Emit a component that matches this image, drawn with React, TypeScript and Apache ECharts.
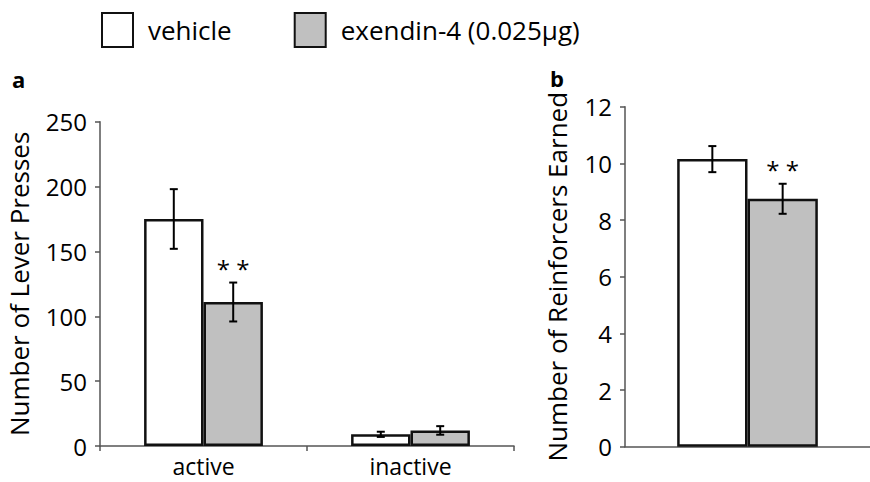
import React, { useEffect, useRef } from "react";
import * as echarts from "echarts";

// Panel a: lever presses
const categoriesA = ["active", "inactive"];
const vehicleA = [175, 9];
const vehicleAErr = [23, 2];
const exendinA = [111, 12];
const exendinAErr = [15, 3.3];
const sigA = ["* *", ""];

// Panel b: reinforcers earned
const categoriesB = [""];
const vehicleB = [10.15];
const vehicleBErr = [0.46];
const exendinB = [8.75];
const exendinBErr = [0.53];
const sigB = ["* *"];

const ticksA = { min: 0, max: 250, interval: 50 };
const ticksB = { min: 0, max: 12, interval: 2 };

const seriesNames = ["vehicle", "exendin-4 (0.025µg)"];

const FONT = "'Open Sans', 'DejaVu Sans', sans-serif";
const BAR_FRAC = 0.287;
const GRAY = "#c0c0c0";
const EDGE = "#111";
const AXIS = "#555";
const INK = "#000";

function errSeries(gi: number, values: number[], errs: number[], sigs: string[] | null, side: number) {
  return {
    type: "custom",
    xAxisIndex: gi,
    yAxisIndex: gi,
    z: 10,
    silent: true,
    encode: { x: 0, y: 1 },
    data: values.map((v, i) => [i, v, errs[i]]),
    renderItem: (params: any, api: any) => {
      const i = api.value(0);
      const v = api.value(1);
      const e = api.value(2);
      const band = api.size([1, 0])[0];
      const bw = band * BAR_FRAC;
      const c = api.coord([i, v]);
      const x = c[0] + (side * bw) / 2;
      const top = api.coord([i, v + e])[1];
      const bot = api.coord([i, v - e])[1];
      const cap = 4;
      const st = { stroke: "#000", lineWidth: 2 };
      const children: any[] = [
        { type: "line", shape: { x1: x, y1: top, x2: x, y2: bot }, style: st },
        { type: "line", shape: { x1: x - cap, y1: top, x2: x + cap, y2: top }, style: st },
        { type: "line", shape: { x1: x - cap, y1: bot, x2: x + cap, y2: bot }, style: st },
      ];
      const s = sigs ? sigs[params.dataIndex] : "";
      if (s) {
        children.push({
          type: "text",
          style: {
            text: s,
            x: x,
            y: top - 2,
            align: "center",
            verticalAlign: "bottom",
            fontFamily: FONT,
            fontSize: 24,
            fill: INK,
          },
        });
      }
      return { type: "group", children };
    },
  };
}

function barSeries(gi: number, name: string, data: number[], color: string) {
  return {
    type: "bar",
    name,
    xAxisIndex: gi,
    yAxisIndex: gi,
    data,
    barWidth: BAR_FRAC * 100 + "%",
    barGap: "0%",
    itemStyle: { color, borderColor: EDGE, borderWidth: 2.5 },
  };
}

export default function App() {
  const ref = useRef<HTMLDivElement>(null);
  useEffect(() => {
    if (!ref.current) return;
    const chart = echarts.init(ref.current, null, { renderer: "svg" });
    const yLabel = { color: INK, fontFamily: FONT, fontSize: 24 };
    chart.setOption({
      animation: false,
      backgroundColor: "#fff",
      textStyle: { fontFamily: FONT },
      legend: {
        data: seriesNames,
        left: 101,
        top: 12,
        padding: 0,
        icon: "rect",
        itemWidth: 31,
        itemHeight: 34,
        itemGap: 62,
        textStyle: { fontFamily: FONT, fontSize: 26, color: INK, padding: [0, 0, 0, 10] },
        selectedMode: false,
      },
      graphic: [
        { type: "text", left: 12, top: 68, style: { text: "a", fontFamily: FONT, fontSize: 22, fontWeight: "bold", fill: INK } },
        { type: "text", left: 550, top: 67, style: { text: "b", fontFamily: FONT, fontSize: 22, fontWeight: "bold", fill: INK } },
      ],
      grid: [
        { left: 100, top: 121.7, width: 414, height: 324.3 },
        { left: 625, top: 106.7, width: 250, height: 340 },
      ],
      xAxis: [
        {
          type: "category",
          gridIndex: 0,
          data: categoriesA,
          axisLine: { lineStyle: { color: AXIS, width: 1.5 } },
          axisTick: { show: true, length: 5, lineStyle: { color: AXIS, width: 1.5 } },
          axisLabel: { color: INK, fontFamily: FONT, fontSize: 23, margin: 8 },
        },
        {
          type: "category",
          gridIndex: 1,
          data: categoriesB,
          axisLine: { lineStyle: { color: AXIS, width: 1.5 } },
          axisTick: { show: false },
          axisLabel: { show: false },
        },
      ],
      yAxis: [
        {
          type: "value",
          gridIndex: 0,
          ...ticksA,
          name: "Number of Lever Presses",
          nameLocation: "middle",
          nameRotate: 90,
          nameGap: 68,
          nameTextStyle: { color: INK, fontFamily: FONT, fontSize: 26 },
          splitLine: { show: false },
          axisLine: { show: true, lineStyle: { color: AXIS, width: 1.5 } },
          axisTick: { show: true, length: 5, lineStyle: { color: AXIS, width: 1.5 } },
          axisLabel: { ...yLabel, margin: 13 },
        },
        {
          type: "value",
          gridIndex: 1,
          ...ticksB,
          name: "Number of Reinforcers Earned",
          nameLocation: "middle",
          nameRotate: 90,
          nameGap: 55,
          nameTextStyle: { color: INK, fontFamily: FONT, fontSize: 26 },
          splitLine: { show: false },
          axisLine: { show: true, lineStyle: { color: AXIS, width: 1.5 } },
          axisTick: { show: true, length: 5, lineStyle: { color: AXIS, width: 1.5 } },
          axisLabel: { ...yLabel, margin: 13 },
        },
      ],
      series: [
        barSeries(0, seriesNames[0], vehicleA, "#fff"),
        barSeries(0, seriesNames[1], exendinA, GRAY),
        barSeries(1, seriesNames[0], vehicleB, "#fff"),
        barSeries(1, seriesNames[1], exendinB, GRAY),
        errSeries(0, vehicleA, vehicleAErr, null, -1),
        errSeries(0, exendinA, exendinAErr, sigA, 1),
        errSeries(1, vehicleB, vehicleBErr, null, -1),
        errSeries(1, exendinB, exendinBErr, sigB, 1),
      ],
    });
    return () => chart.dispose();
  }, []);
  return (
    <div
      ref={ref}
      style={{ position: "fixed", left: 0, top: 0, width: 870, height: 482, background: "#fff" }}
    />
  );
}
